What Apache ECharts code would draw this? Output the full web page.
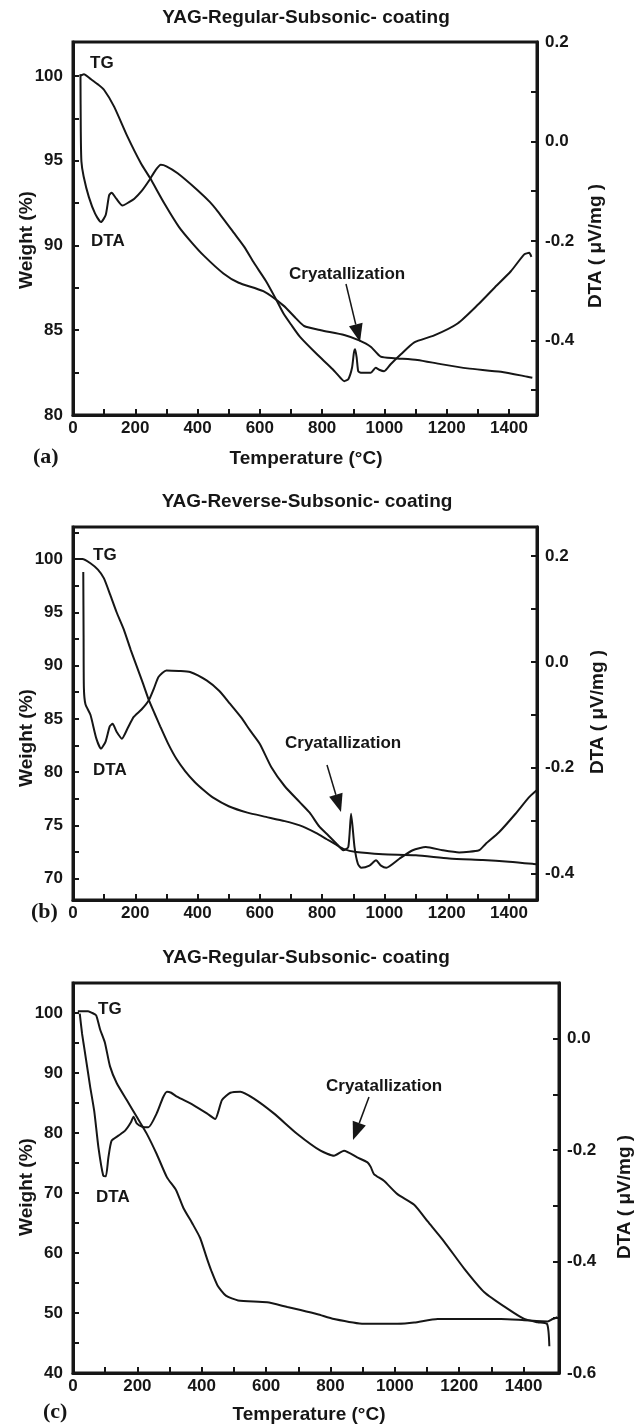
<!DOCTYPE html>
<html>
<head>
<meta charset="utf-8">
<script src="https://cdn.jsdelivr.net/npm/echarts@6/dist/echarts.min.js"></script>
<style>
  html, body { margin: 0; background: #fff; }
  #main { width: 639px; height: 1428px; }
</style>
</head>
<body>
<div id="main"></div>
<script>
// temperature ticks (labels every 200, ticks every 100)
const xLabels = [0, 200, 400, 600, 800, 1000, 1200, 1400];
const xTicks = [0, 100, 200, 300, 400, 500, 600, 700, 800, 900, 1000, 1100, 1200, 1300, 1400];

// panel (a)
const wLabelsA = [80, 85, 90, 95, 100];
const wTicksA = [80, 82.5, 85, 87.5, 90, 92.5, 95, 97.5, 100];
const dLabelsA = [-0.4, -0.2, 0, 0.2];
const dTicksA = [-0.5, -0.4, -0.3, -0.2, -0.1, 0, 0.1, 0.2];
const tgA = [[22,100.0],[35,100.1],[58,99.8],[80,99.5],[100,99.17],[132,98.19],[175,96.42],[218,94.85],[248,93.96],[293,92.49],[340,91.1],[380,90.2],[420,89.4],[483,88.35],[532,87.8],[611,87.3],[676,86.45],[716,85.7],[742,85.25],[796,85.0],[871,84.72],[919,84.4],[956,84.03],[988,83.44],[1031,83.35],[1106,83.25],[1181,83.0],[1267,82.75],[1374,82.55],[1459,82.26],[1475,82.2]];
const dtaA = [[24,0.135],[25,0.02],[27,-0.04],[34,-0.07],[51,-0.112],[71,-0.145],[90,-0.162],[105,-0.148],[116,-0.108],[124,-0.103],[139,-0.115],[159,-0.129],[180,-0.122],[197,-0.115],[220,-0.100],[245,-0.078],[265,-0.058],[282,-0.047],[300,-0.050],[336,-0.064],[400,-0.098],[440,-0.122],[464,-0.140],[518,-0.185],[550,-0.212],[582,-0.245],[619,-0.280],[650,-0.315],[676,-0.346],[700,-0.368],[729,-0.393],[782,-0.427],[834,-0.458],[860,-0.476],[871,-0.482],[884,-0.478],[896,-0.455],[902,-0.425],[906,-0.418],[911,-0.435],[916,-0.462],[924,-0.465],[956,-0.465],[972,-0.455],[983,-0.459],[999,-0.462],[1020,-0.448],[1053,-0.428],[1096,-0.404],[1160,-0.390],[1235,-0.366],[1299,-0.329],[1352,-0.295],[1406,-0.261],[1449,-0.227],[1465,-0.224],[1472,-0.232]];

// panel (b)
const wLabelsB = [70, 75, 80, 85, 90, 95, 100];
const wTicksB = [70, 72.5, 75, 77.5, 80, 82.5, 85, 87.5, 90, 92.5, 95, 97.5, 100, 102.5];
const dLabelsB = [-0.4, -0.2, 0, 0.2];
const dTicksB = [-0.4, -0.3, -0.2, -0.1, 0, 0.1, 0.2];
const tgB = [[5,100.0],[30,100.0],[56,99.6],[80,99.0],[99,98.2],[120,96.6],[140,95.0],[163,93.4],[185,91.5],[205,89.9],[225,88.3],[243,86.8],[262,85.5],[280,84.3],[305,82.7],[333,81.2],[360,80.1],[390,79.1],[420,78.3],[450,77.6],[500,76.8],[560,76.2],[620,75.8],[680,75.4],[728,75.0],[780,74.3],[815,73.7],[845,73.2],[868,72.8],[909,72.5],[995,72.3],[1101,72.2],[1208,71.9],[1316,71.75],[1400,71.6],[1475,71.4],[1488,71.35]];
const dtaB = [[33,0.17],[34,0.05],[35,-0.05],[40,-0.08],[56,-0.10],[75,-0.145],[90,-0.164],[105,-0.150],[118,-0.122],[127,-0.117],[140,-0.132],[157,-0.145],[175,-0.126],[195,-0.104],[220,-0.090],[243,-0.073],[260,-0.050],[275,-0.028],[300,-0.016],[340,-0.017],[376,-0.019],[429,-0.035],[470,-0.055],[504,-0.079],[540,-0.105],[568,-0.129],[600,-0.155],[637,-0.199],[680,-0.235],[728,-0.265],[760,-0.285],[792,-0.312],[820,-0.328],[847,-0.344],[868,-0.356],[884,-0.350],[893,-0.287],[904,-0.350],[915,-0.382],[925,-0.389],[952,-0.385],[973,-0.375],[989,-0.385],[1006,-0.389],[1048,-0.372],[1091,-0.356],[1133,-0.350],[1187,-0.356],[1240,-0.360],[1304,-0.356],[1325,-0.344],[1368,-0.322],[1421,-0.287],[1464,-0.256],[1488,-0.243]];

// panel (c)
const wLabelsC = [40, 50, 60, 70, 80, 90, 100];
const wTicksC = [40, 45, 50, 55, 60, 65, 70, 75, 80, 85, 90, 95, 100];
const dLabelsC = [-0.6, -0.4, -0.2, 0];
const dTicksC = [-0.6, -0.5, -0.4, -0.3, -0.2, -0.1, 0, 0.1];
const tgC = [[15,100.3],[47,100.3],[60,100.0],[72,99.6],[84,97.3],[99,95.1],[115,91.1],[136,88.3],[167,85.5],[198,82.7],[229,79.9],[260,76.5],[292,72.6],[320,70.5],[343,67.5],[370,65.0],[395,62.5],[416,59.1],[430,57.0],[449,54.6],[475,52.9],[513,52.1],[603,51.8],[666,51.0],[707,50.5],[760,49.8],[811,49.0],[904,48.2],[1008,48.2],[1060,48.4],[1133,49.0],[1226,49.0],[1330,49.0],[1402,48.8],[1475,48.6],[1490,49.0],[1505,49.3]];
const dtaC = [[21,0.045],[28,0.01],[34,-0.013],[47,-0.062],[53,-0.085],[66,-0.13],[79,-0.195],[94,-0.246],[102,-0.247],[110,-0.213],[120,-0.183],[141,-0.174],[162,-0.165],[180,-0.150],[188,-0.140],[198,-0.152],[215,-0.158],[234,-0.159],[260,-0.134],[280,-0.105],[292,-0.095],[305,-0.097],[323,-0.104],[374,-0.119],[416,-0.134],[442,-0.144],[452,-0.130],[463,-0.110],[489,-0.097],[520,-0.095],[561,-0.107],[624,-0.134],[697,-0.171],[769,-0.201],[811,-0.210],[842,-0.201],[883,-0.213],[915,-0.222],[925,-0.230],[935,-0.243],[966,-0.255],[1008,-0.279],[1060,-0.298],[1102,-0.328],[1153,-0.364],[1216,-0.413],[1278,-0.455],[1351,-0.485],[1402,-0.503],[1444,-0.509],[1473,-0.512],[1480,-0.552]];

const INK = '#161616';
const FONT = '"Liberation Sans", Arial, Helvetica, sans-serif';

const chart = echarts.init(document.getElementById('main'), null, { renderer: 'canvas' });

const grids = [], xAxes = [], yAxes = [], series = [];

function addPanel(box, xmax, wRange, wLabels, wTicks, dRange, dLabels, dTicks, tg, dta) {
  const gi = grids.length;
  grids.push({
    left: box.left, top: box.top, width: box.width, height: box.height,
    show: true, borderColor: INK, borderWidth: 3, containLabel: false
  });
  xAxes.push({
    gridIndex: gi, type: 'value', min: 0, max: xmax,
    axisLine: { show: true, onZero: false, lineStyle: { color: INK, width: 3 } },
    axisTick: { inside: true, length: 6, lineStyle: { color: INK, width: 2 }, customValues: xTicks },
    axisLabel: { customValues: xLabels, color: INK, fontSize: 17, fontWeight: 'bold', fontFamily: FONT, margin: 5,
      formatter: v => String(v) },
    splitLine: { show: false }
  });
  yAxes.push({
    gridIndex: gi, type: 'value', position: 'left', min: wRange[0], max: wRange[1],
    axisLine: { show: true, onZero: false, lineStyle: { color: INK, width: 3 } },
    axisTick: { inside: true, length: 6, lineStyle: { color: INK, width: 2 }, customValues: wTicks },
    axisLabel: { customValues: wLabels, color: INK, fontSize: 17, fontWeight: 'bold', fontFamily: FONT, margin: 10,
      formatter: v => String(v) },
    splitLine: { show: false }
  });
  yAxes.push({
    gridIndex: gi, type: 'value', position: 'right', min: dRange[0], max: dRange[1],
    axisLine: { show: true, onZero: false, lineStyle: { color: INK, width: 3 } },
    axisTick: { inside: true, length: 6, lineStyle: { color: INK, width: 2 }, customValues: dTicks },
    axisLabel: {
      customValues: dLabels, color: INK, fontSize: 17, fontWeight: 'bold', fontFamily: FONT, margin: 8,
      formatter: v => (Math.abs(v) < 1e-9 ? '0.0' : v.toFixed(1))
    },
    splitLine: { show: false }
  });
  const line = { color: INK, width: 2 };
  series.push({ type: 'line', name: 'TG', xAxisIndex: gi, yAxisIndex: gi * 2, data: tg,
    showSymbol: false, smooth: 0.2, lineStyle: line, silent: true });
  series.push({ type: 'line', name: 'DTA', xAxisIndex: gi, yAxisIndex: gi * 2 + 1, data: dta,
    showSymbol: false, smooth: 0.2, lineStyle: line, silent: true });
}

addPanel({ left: 73, top: 42, width: 464, height: 373 }, 1490, [80, 102], wLabelsA, wTicksA,
  [-0.55, 0.2], dLabelsA, dTicksA, tgA, dtaA);
addPanel({ left: 73, top: 527, width: 464, height: 373 }, 1490, [68, 103], wLabelsB, wTicksB,
  [-0.45, 0.255], dLabelsB, dTicksB, tgB, dtaB);
addPanel({ left: 73, top: 983, width: 486, height: 390 }, 1510, [40, 105], wLabelsC, wTicksC,
  [-0.6, 0.1], dLabelsC, dTicksC, tgC, dtaC);

// text and arrows
const g = [];
function txt(s, x, y, size, opts) {
  opts = opts || {};
  g.push({
    type: 'text', x: x, y: y, rotation: opts.rot || 0, silent: true,
    style: {
      text: s, x: 0, y: 0, fill: INK,
      font: 'bold ' + size + 'px ' + (opts.family || FONT),
      textAlign: opts.align || 'center', textVerticalAlign: 'middle'
    }
  });
}
function arrow(x1, y1, x2, y2) {
  const dx = x2 - x1, dy = y2 - y1, len = Math.sqrt(dx * dx + dy * dy);
  const ux = dx / len, uy = dy / len, hl = 18, hw = 7;
  const bx = x2 - ux * hl, by = y2 - uy * hl;
  g.push({ type: 'line', silent: true, shape: { x1: x1, y1: y1, x2: bx, y2: by },
    style: { stroke: INK, lineWidth: 1.5 } });
  g.push({ type: 'polygon', silent: true,
    shape: { points: [[x2, y2], [bx - uy * hw, by + ux * hw], [bx + uy * hw, by - ux * hw]] },
    style: { fill: INK } });
}

const SERIF = '"Liberation Serif", "Times New Roman", serif';

// panel (a)
txt('YAG-Regular-Subsonic- coating', 306, 18, 19);
txt('TG', 90, 63, 17, { align: 'left' });
txt('DTA', 91, 241, 17, { align: 'left' });
txt('Cryatallization', 289, 274, 17, { align: 'left' });
arrow(346, 284, 360, 342);
txt('Weight (%)', 27, 240, 19, { rot: Math.PI / 2 });
txt('DTA ( μV/mg )', 596, 246, 19, { rot: Math.PI / 2 });
txt('Temperature (°C)', 306, 459, 19);
txt('(a)', 33, 457, 22, { align: 'left', family: SERIF });

// panel (b)
txt('YAG-Reverse-Subsonic- coating', 307, 502, 19);
txt('TG', 93, 555, 17, { align: 'left' });
txt('DTA', 93, 770, 17, { align: 'left' });
txt('Cryatallization', 285, 743, 17, { align: 'left' });
arrow(327, 765, 341, 812);
txt('Weight (%)', 27, 738, 19, { rot: Math.PI / 2 });
txt('DTA ( μV/mg )', 598, 712, 19, { rot: Math.PI / 2 });
txt('(b)', 31, 912, 22, { align: 'left', family: SERIF });

// panel (c)
txt('YAG-Regular-Subsonic- coating', 306, 958, 19);
txt('TG', 98, 1009, 17, { align: 'left' });
txt('DTA', 96, 1197, 17, { align: 'left' });
txt('Cryatallization', 326, 1086, 17, { align: 'left' });
arrow(369, 1097, 353, 1140);
txt('Weight (%)', 27, 1187, 19, { rot: Math.PI / 2 });
txt('DTA ( μV/mg )', 625, 1197, 19, { rot: Math.PI / 2 });
txt('Temperature (°C)', 309, 1415, 19);
txt('(c)', 43, 1412, 22, { align: 'left', family: SERIF });

chart.setOption({
  backgroundColor: '#fff',
  animation: false,
  grid: grids,
  xAxis: xAxes,
  yAxis: yAxes,
  series: series,
  graphic: g
});
</script>
</body>
</html>
